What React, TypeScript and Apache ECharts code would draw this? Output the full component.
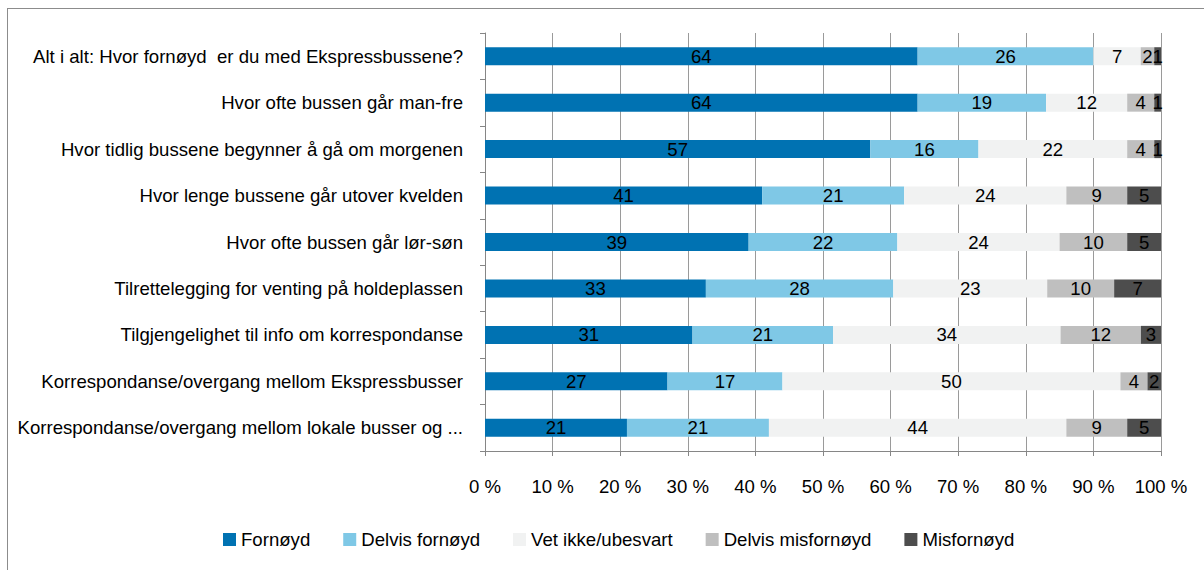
import React, { useEffect, useRef } from "react";
import * as echarts from "echarts";

const categories = [
  "Alt i alt: Hvor fornøyd  er du med Ekspressbussene?",
  "Hvor ofte bussen går man-fre",
  "Hvor tidlig bussene begynner å gå om morgenen",
  "Hvor lenge bussene går utover kvelden",
  "Hvor ofte bussen går lør-søn",
  "Tilrettelegging for venting på holdeplassen",
  "Tilgjengelighet til info om korrespondanse",
  "Korrespondanse/overgang mellom Ekspressbusser",
  "Korrespondanse/overgang mellom lokale busser og ...",
];

const seriesNames = ["Fornøyd", "Delvis fornøyd", "Vet ikke/ubesvart", "Delvis misfornøyd", "Misfornøyd"];

const fornoyd = [64, 64, 57, 41, 39, 33, 31, 27, 21];
const delvisFornoyd = [26, 19, 16, 21, 22, 28, 21, 17, 21];
const vetIkke = [7, 12, 22, 24, 24, 23, 34, 50, 44];
const delvisMisfornoyd = [2, 4, 4, 9, 10, 10, 12, 4, 9];
const misfornoyd = [1, 1, 1, 5, 5, 7, 3, 2, 5];

const tickLabels = ["0 %", "10 %", "20 %", "30 %", "40 %", "50 %", "60 %", "70 %", "80 %", "90 %", "100 %"];

const colors = ["#0072b2", "#7fc8e6", "#f1f2f2", "#bfbfbf", "#4d4d4d"];

const FONT = "'Liberation Sans Narrow', 'Liberation Sans', sans-serif";

export default function App() {
  const ref = useRef<HTMLDivElement>(null);

  useEffect(() => {
    if (!ref.current) return;
    const chart = echarts.init(ref.current, null, { renderer: "svg" });
    const raw = [fornoyd, delvisFornoyd, vetIkke, delvisMisfornoyd, misfornoyd];
    const totals = categories.map((_, i) => raw.reduce((s, arr) => s + arr[i], 0));

    const series = raw.map((arr, si) => ({
      name: seriesNames[si],
      type: "bar",
      stack: "total",
      barWidth: 18,
      data: arr.map((v, i) => (v / totals[i]) * 100),
      itemStyle: { color: colors[si] },
      label: {
        show: true,
        position: "inside",
        color: "#000",
        fontFamily: FONT,
        fontSize: 18.6,
        formatter: (p: any) => String(arr[p.dataIndex]),
      },
    }));

    chart.setOption({
      animation: false,
      textStyle: { fontFamily: FONT },
      grid: { left: 485, right: 43, top: 33, bottom: 119, containLabel: false },
      legend: {
        bottom: 16,
        left: 218,
        itemWidth: 13,
        itemHeight: 13,
        itemGap: 33,
        icon: "rect",
        textStyle: { fontFamily: FONT, fontSize: 18.6, color: "#000" },
        data: seriesNames,
      },
      xAxis: {
        type: "value",
        min: 0,
        max: 100,
        interval: 10,
        axisLine: { show: true, lineStyle: { color: "#868686" } },
        axisTick: { show: true, length: 5, lineStyle: { color: "#868686" } },
        splitLine: { show: true, lineStyle: { color: "#9a9a9a" } },
        axisLabel: {
          margin: 26,
          fontFamily: FONT,
          fontSize: 18.6,
          color: "#000",
          formatter: (v: number) => tickLabels[Math.round(v / 10)],
        },
      },
      yAxis: {
        type: "category",
        inverse: true,
        data: categories,
        axisLine: { show: true, lineStyle: { color: "#868686" } },
        axisTick: { show: true, length: 5, alignWithLabel: false, lineStyle: { color: "#868686" } },
        axisLabel: { margin: 22, fontFamily: FONT, fontSize: 18.6, color: "#000" },
      },
      series,
    });
    return () => chart.dispose();
  }, []);

  return (
    <div
      style={{
        position: "absolute",
        left: 7,
        top: 8,
        width: 1197,
        height: 562,
        boxSizing: "border-box",
        borderLeft: "1px solid #8c8c8c",
        borderTop: "1px solid #8c8c8c",
        overflow: "hidden",
      }}
    >
      <div ref={ref} style={{ position: "absolute", left: -8, top: -9, width: 1204, height: 570 }} />
    </div>
  );
}
